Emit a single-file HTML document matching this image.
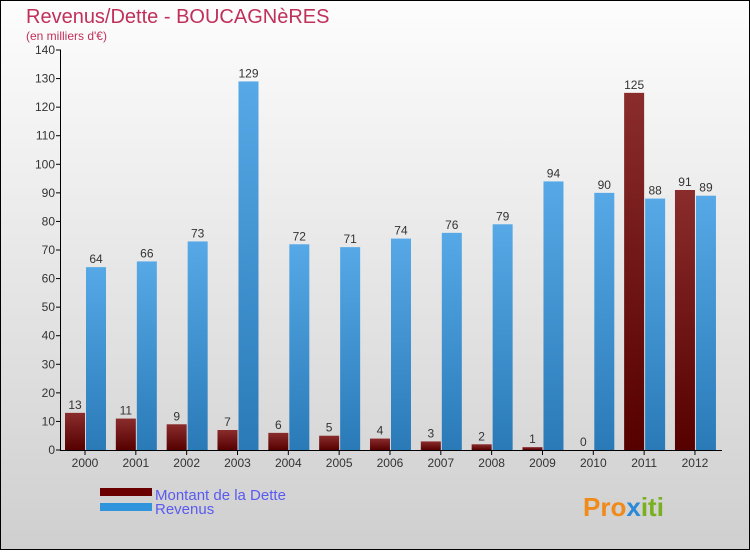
<!DOCTYPE html>
<html><head><meta charset="utf-8"><style>
html,body{margin:0;padding:0}
body{width:750px;height:550px;overflow:hidden;font-family:"Liberation Sans",sans-serif}
</style></head><body>
<svg id="c" width="750" height="550" xmlns="http://www.w3.org/2000/svg">
<defs>
<linearGradient id="bg" x1="0" y1="0" x2="0" y2="1"><stop offset="0" stop-color="#fdfdfd"/><stop offset="1" stop-color="#cfcfcf"/></linearGradient>
<linearGradient id="gd" x1="0" y1="0" x2="0" y2="1"><stop offset="0" stop-color="#8a2c2c"/><stop offset="1" stop-color="#560000"/></linearGradient>
<linearGradient id="gr" x1="0" y1="0" x2="0" y2="1"><stop offset="0" stop-color="#56a9e6"/><stop offset="1" stop-color="#2a7ab8"/></linearGradient>
</defs>
<rect x="0.5" y="0.5" width="749" height="549" fill="url(#bg)" stroke="#000"/>
<text x="26" y="23" font-size="20" fill="#c0305a">Revenus/Dette - BOUCAGNèRES</text>
<text x="26" y="40" font-size="12" fill="#c0305a">(en milliers d'€)</text>
<g id="plot"></g>
<rect x="100" y="488" width="52" height="8" fill="#6a0000"/>
<rect x="100" y="503" width="52" height="8" fill="#2f94dc"/>
<text x="155" y="500" font-size="15" fill="#5a5af0">Montant de la Dette</text>
<text x="155" y="514" font-size="15" fill="#5a5af0">Revenus</text>
<text x="583" y="516" font-size="26" font-weight="bold" fill="#f08a1a">Pro<tspan fill="#2a8ad8">x</tspan><tspan fill="#7ab020">iti</tspan></text>
</svg>
<script>
const years=["2000","2001","2002","2003","2004","2005","2006","2007","2008","2009","2010","2011","2012"];
const dette=[13,11,9,7,6,5,4,3,2,1,0,125,91];
const revenus=[64,66,73,129,72,71,74,76,79,94,90,88,89];
const ticks=[0,10,20,30,40,50,60,70,80,90,100,110,120,130,140];
const NS="http://www.w3.org/2000/svg";
const g=document.getElementById('plot');
const y0=450,ymax=140,ph=400,x0=85,step=50.83;
const Y=v=>y0-v/ymax*ph;
const X=i=>x0+i*step;
function mk(t,a,txt){const e=document.createElementNS(NS,t);for(const k in a)e.setAttribute(k,a[k]);if(txt!==undefined)e.textContent=txt;g.appendChild(e);return e;}
ticks.forEach(t=>{
 const l=mk('line',{x1:56,x2:61,y1:Y(t),y2:Y(t),stroke:'#000'});
 
 
 const tx=mk('text',{x:55,y:Y(t)+4,'font-size':12,'text-anchor':'end',fill:'#333'},t);
 
 
});
years.forEach((yr,i)=>{
 const cx=X(i);
 const b1=mk('rect',{x:cx-20,y:Y(dette[i]),width:20,height:dette[i]/ymax*ph,fill:'url(#gd)'});
 
 
 const b2=mk('rect',{x:cx+1,y:Y(revenus[i]),width:20,height:revenus[i]/ymax*ph,fill:'url(#gr)'});
 
 
 const t1=mk('text',{x:cx-10,y:Y(dette[i])-4,'font-size':12,'text-anchor':'middle',fill:'#333'},dette[i]);
 
 
 const t2=mk('text',{x:cx+11,y:Y(revenus[i])-4,'font-size':12,'text-anchor':'middle',fill:'#333'},revenus[i]);
 
 
 const tk=mk('line',{x1:cx,x2:cx,y1:450,y2:455,stroke:'#000'});
 
 
 const xl=mk('text',{x:cx,y:467,'font-size':12,'text-anchor':'middle',fill:'#333'},yr);
 
 
});
const ya=mk('line',{x1:60.5,x2:60.5,y1:50,y2:450,stroke:'#000'});


const xa=mk('line',{x1:60,x2:722,y1:450.5,y2:450.5,stroke:'#000'});


</script>
</body></html>
